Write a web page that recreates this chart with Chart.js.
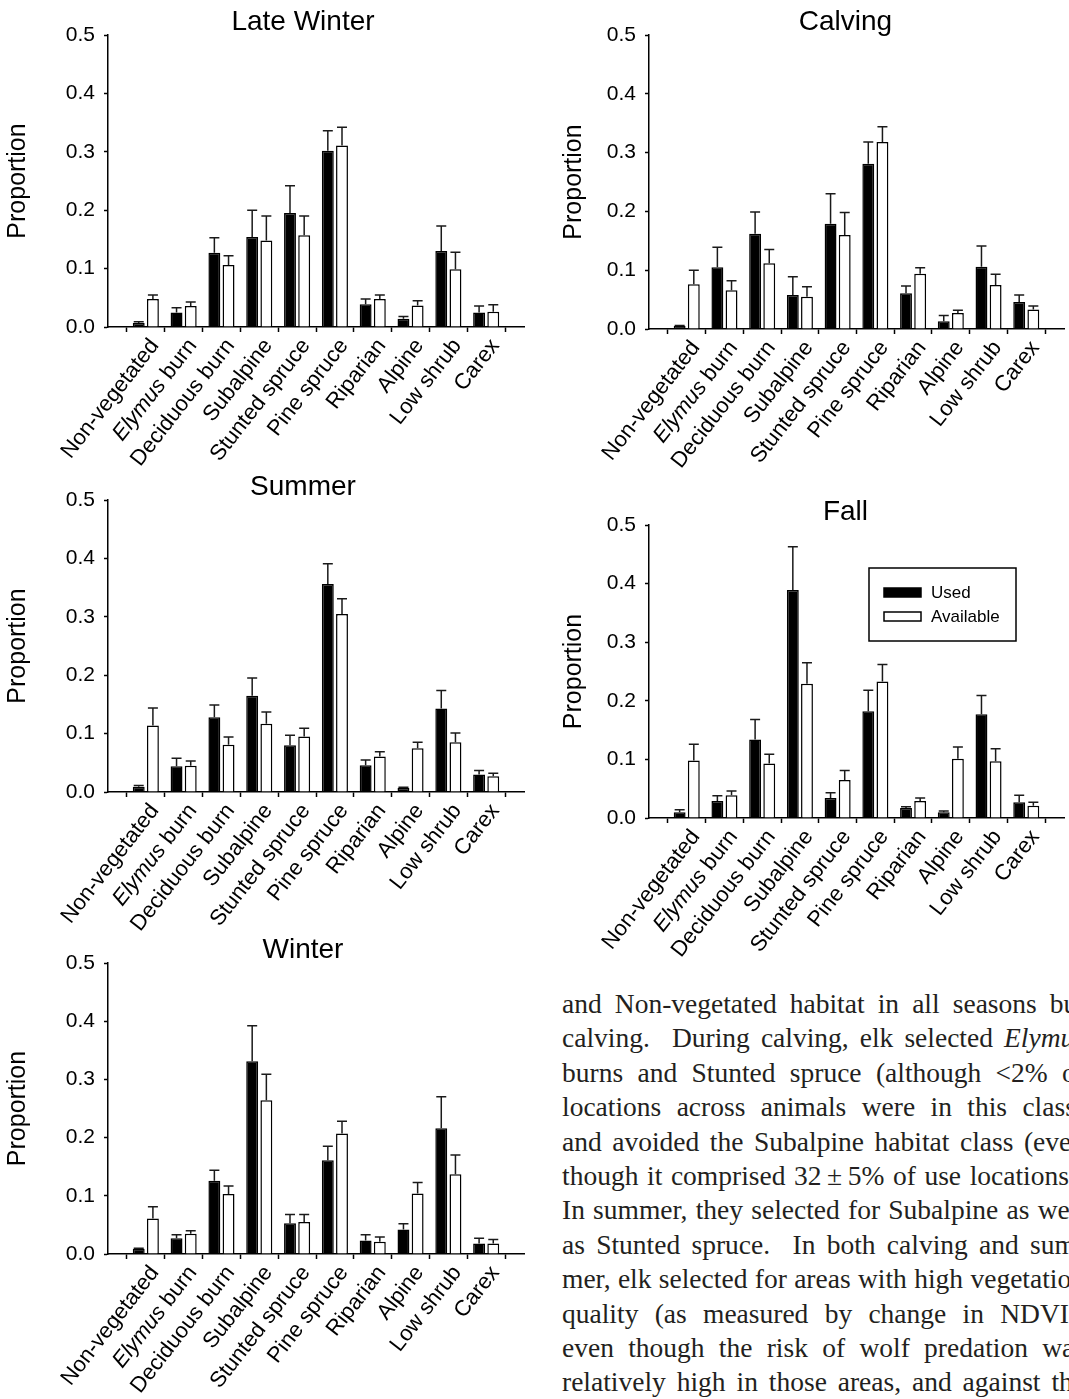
<!DOCTYPE html>
<html>
<head>
<meta charset="utf-8">
<script src="https://cdn.jsdelivr.net/npm/chart.js@4.4.1/dist/chart.umd.min.js"></script>
<style>
  html, body { margin: 0; padding: 0; background: #fff; }
  body { width: 1069px; height: 1399px; overflow: hidden; position: relative; }
  canvas { position: absolute; }
  #para { position: absolute; left: 562px; top: 987px; font-family: 'Liberation Serif', 'Times New Roman', serif; font-size: 27.5px; color: #231f20; }
  .ln { width: 523px; height: 34.4px; line-height: 34.4px; white-space: nowrap; text-align: justify; text-align-last: justify; }
</style>
</head>
<body>
<canvas id="lateWinter"></canvas>
<canvas id="summer"></canvas>
<canvas id="winter"></canvas>
<canvas id="calving"></canvas>
<canvas id="fall"></canvas>
<div id="para">
  <div class="ln">and Non-vegetated habitat in all seasons but</div>
  <div class="ln">calving.&nbsp; During calving, elk selected <i>Elymus</i></div>
  <div class="ln">burns and Stunted spruce (although &lt;2% of</div>
  <div class="ln">locations across animals were in this class)</div>
  <div class="ln">and avoided the Subalpine habitat class (even</div>
  <div class="ln">though it comprised 32&#8201;±&#8201;5% of use locations).</div>
  <div class="ln">In summer, they selected for Subalpine as well</div>
  <div class="ln">as Stunted spruce.&nbsp; In both calving and sum-</div>
  <div class="ln">mer, elk selected for areas with high vegetation</div>
  <div class="ln">quality (as measured by change in NDVI),</div>
  <div class="ln">even though the risk of wolf predation was</div>
  <div class="ln">relatively high in those areas, and against the</div>
</div>
<script>
'use strict';

// habitat classes along the x axis
const categories = ['Non-vegetated', 'Elymus burn', 'Deciduous burn', 'Subalpine', 'Stunted spruce',
  'Pine spruce', 'Riparian', 'Alpine', 'Low shrub', 'Carex'];
const seriesNames = ['Used', 'Available'];
const yTickValues = [0, 0.1, 0.2, 0.3, 0.4, 0.5];

// late winter
const lateWinterUsed = [0.007, 0.025, 0.127, 0.154, 0.195, 0.302, 0.039, 0.014, 0.130, 0.025];
const lateWinterUsedSE = [0.002, 0.008, 0.026, 0.046, 0.047, 0.034, 0.009, 0.004, 0.043, 0.011];
const lateWinterAvail = [0.048, 0.036, 0.106, 0.148, 0.157, 0.311, 0.048, 0.037, 0.099, 0.026];
const lateWinterAvailSE = [0.007, 0.007, 0.016, 0.042, 0.033, 0.031, 0.007, 0.008, 0.029, 0.012];

// calving
const calvingUsed = [0.005, 0.105, 0.162, 0.058, 0.179, 0.281, 0.061, 0.013, 0.106, 0.046];
const calvingUsedSE = [0.001, 0.034, 0.037, 0.031, 0.051, 0.037, 0.012, 0.010, 0.035, 0.012];
const calvingAvail = [0.076, 0.066, 0.112, 0.055, 0.160, 0.318, 0.094, 0.027, 0.075, 0.033];
const calvingAvailSE = [0.024, 0.016, 0.023, 0.017, 0.038, 0.026, 0.010, 0.005, 0.018, 0.006];

// summer
const summerUsed = [0.009, 0.044, 0.128, 0.165, 0.080, 0.356, 0.046, 0.007, 0.143, 0.030];
const summerUsedSE = [0.002, 0.014, 0.021, 0.030, 0.017, 0.035, 0.009, 0.001, 0.031, 0.007];
const summerAvail = [0.114, 0.045, 0.081, 0.117, 0.095, 0.305, 0.061, 0.075, 0.085, 0.027];
const summerAvailSE = [0.030, 0.008, 0.013, 0.020, 0.014, 0.026, 0.008, 0.010, 0.016, 0.005];

// fall
const fallUsed = [0.010, 0.029, 0.134, 0.389, 0.034, 0.182, 0.017, 0.010, 0.177, 0.027];
const fallUsedSE = [0.004, 0.009, 0.034, 0.074, 0.009, 0.036, 0.002, 0.002, 0.032, 0.012];
const fallAvail = [0.098, 0.039, 0.093, 0.229, 0.065, 0.233, 0.029, 0.101, 0.097, 0.021];
const fallAvailSE = [0.028, 0.007, 0.016, 0.036, 0.016, 0.029, 0.005, 0.020, 0.021, 0.006];

// winter
const winterUsed = [0.009, 0.027, 0.126, 0.331, 0.053, 0.161, 0.023, 0.042, 0.216, 0.018];
const winterUsedSE = [0.001, 0.006, 0.018, 0.061, 0.015, 0.024, 0.010, 0.010, 0.054, 0.009];
const winterAvail = [0.061, 0.035, 0.103, 0.264, 0.055, 0.207, 0.021, 0.104, 0.137, 0.018];
const winterAvailSE = [0.020, 0.005, 0.014, 0.045, 0.013, 0.021, 0.008, 0.019, 0.033, 0.007];

const FONT = "'Liberation Sans', Arial, Helvetica, sans-serif";
Chart.defaults.font.family = FONT;
Chart.defaults.color = '#000';

// where each panel sits on the page
let panels = [
  { id: 'lateWinter', title: 'Late Winter', used: lateWinterUsed, usedSE: lateWinterUsedSE, avail: lateWinterAvail, availSE: lateWinterAvailSE, left: 0, width: 540, plotTop: 35, plotH: 292, plotW: 416, titleDx: -13, yLabelX: 18 },
  { id: 'summer', title: 'Summer', used: summerUsed, usedSE: summerUsedSE, avail: summerAvail, availSE: summerAvailSE, left: 0, width: 540, plotTop: 500, plotH: 292, plotW: 416, titleDx: -13, yLabelX: 18 },
  { id: 'winter', title: 'Winter', used: winterUsed, usedSE: winterUsedSE, avail: winterAvail, availSE: winterAvailSE, left: 0, width: 540, plotTop: 963, plotH: 291, plotW: 416, titleDx: -13, yLabelX: 18 },
  { id: 'calving', title: 'Calving', used: calvingUsed, usedSE: calvingUsedSE, avail: calvingAvail, availSE: calvingAvailSE, left: 541, width: 528, plotTop: 35, plotH: 294, plotW: 415, titleDx: -11, yLabelX: 33 },
  { id: 'fall', title: 'Fall', used: fallUsed, usedSE: fallUsedSE, avail: fallAvail, availSE: fallAvailSE, left: 541, width: 528, plotTop: 525, plotH: 293, plotW: 415, titleDx: -11, yLabelX: 33, legend: true }
];

const TOP_PAD = 35;
const AXIS_W = 108;
const XAXIS_H = 145;
const YTITLE_SIZE = 25;

// error bars (upper half only, with a cap)
const errorBars = {
  id: 'errorBars',
  afterDatasetsDraw(chart) {
    let ctx = chart.ctx;
    let yScale = chart.scales.y;
    ctx.save();
    ctx.strokeStyle = '#1a1a1a';
    ctx.lineWidth = 1.5;
    chart.data.datasets.forEach((ds, d) => {
      let meta = chart.getDatasetMeta(d);
      meta.data.forEach((bar, i) => {
        let yEnd = yScale.getPixelForValue(ds.data[i].y + ds.errors[i]);
        ctx.beginPath();
        ctx.moveTo(bar.x, bar.y);
        ctx.lineTo(bar.x, yEnd);
        ctx.moveTo(bar.x - 5, yEnd);
        ctx.lineTo(bar.x + 5, yEnd);
        ctx.stroke();
      });
    });
    ctx.restore();
  }
};

// rotated category names, Elymus in italics
const categoryLabels = {
  id: 'categoryLabels',
  afterDraw(chart) {
    let ctx = chart.ctx;
    let xScale = chart.scales.x;
    let base = chart.chartArea.bottom;
    ctx.save();
    ctx.fillStyle = '#000';
    ctx.textAlign = 'right';
    ctx.textBaseline = 'middle';
    categories.forEach((name, i) => {
      let x = xScale.getPixelForValue(i);
      ctx.save();
      ctx.translate(x + 9, base + 15);
      ctx.rotate(-52 * Math.PI / 180);
      if (name.startsWith('Elymus')) {
        let rest = name.slice('Elymus'.length);
        ctx.font = '22px ' + FONT;
        ctx.fillText(rest, 0, 0);
        let w = ctx.measureText(rest).width;
        ctx.font = 'italic 22px ' + FONT;
        ctx.fillText('Elymus', -w, 0);
      } else {
        ctx.font = '22px ' + FONT;
        ctx.fillText(name, 0, 0);
      }
      ctx.restore();
    });
    ctx.restore();
  }
};

const panelTitle = {
  id: 'panelTitle',
  afterDraw(chart, args, opts) {
    let ctx = chart.ctx;
    let area = chart.chartArea;
    ctx.save();
    ctx.fillStyle = '#000';
    ctx.font = '28px ' + FONT;
    ctx.textAlign = 'center';
    ctx.textBaseline = 'alphabetic';
    ctx.fillText(opts.text, (area.left + area.right) / 2 + opts.dx, area.top - 5);
    ctx.restore();
  }
};

const boxLegend = {
  id: 'boxLegend',
  afterDraw(chart, args, opts) {
    if (!opts.show) return;
    let ctx = chart.ctx;
    let area = chart.chartArea;
    let bx = area.left + 220;
    let by = area.top + 43;
    ctx.save();
    ctx.strokeStyle = '#000';
    ctx.lineWidth = 1.5;
    ctx.strokeRect(bx, by, 147, 73);
    ctx.font = '17px ' + FONT;
    ctx.textAlign = 'left';
    ctx.textBaseline = 'middle';
    chart.data.datasets.forEach((ds, d) => {
      let sy = by + 20 + d * 24;
      ctx.fillStyle = ds.backgroundColor;
      ctx.fillRect(bx + 15, sy, 37, 9);
      ctx.strokeRect(bx + 15, sy, 37, 9);
      ctx.fillStyle = '#000';
      ctx.fillText(ds.label, bx + 62, sy + 5);
    });
    ctx.restore();
  }
};

function makeDataset(label, values, se, fill) {
  return {
    label: label,
    data: values.map((v, i) => ({ x: i, y: v })),
    errors: se,
    backgroundColor: fill,
    borderColor: '#000',
    borderWidth: 1.5,
    categoryPercentage: 0.75,
    barPercentage: 0.84
  };
}

function renderPanel(p) {
  let canvas = document.getElementById(p.id);
  let h = TOP_PAD + p.plotH + XAXIS_H;
  canvas.width = p.width;
  canvas.height = h;
  canvas.style.left = p.left + 'px';
  canvas.style.top = (p.plotTop - TOP_PAD) + 'px';

  let chartObject = {
    type: 'bar',
    data: {
      datasets: [
        makeDataset(seriesNames[0], p.used, p.usedSE, '#000'),
        makeDataset(seriesNames[1], p.avail, p.availSE, '#fff')
      ]
    },
    options: {
      responsive: false,
      animation: false,
      devicePixelRatio: 1,
      layout: { padding: { top: TOP_PAD, left: 0, bottom: 0, right: p.width - AXIS_W - p.plotW } },
      plugins: {
        legend: { display: false },
        tooltip: { enabled: false },
        panelTitle: { text: p.title, dx: p.titleDx },
        boxLegend: { show: !!p.legend }
      },
      scales: {
        x: {
          type: 'linear',
          min: -1,
          max: categories.length,
          offset: false,
          ticks: { display: false },
          afterBuildTicks: s => { s.ticks = categories.map((c, i) => ({ value: i })); },
          afterFit: s => { s.height = XAXIS_H; },
          grid: { drawOnChartArea: false, drawTicks: true, tickLength: 5, tickColor: '#000', tickWidth: 1.5 },
          border: { display: true, color: '#000', width: 1.5 }
        },
        y: {
          min: yTickValues[0],
          max: yTickValues[yTickValues.length - 1],
          afterBuildTicks: s => { s.ticks = yTickValues.map(v => ({ value: v })); },
          afterFit: s => { s.width = AXIS_W; },
          ticks: { font: { size: 21 }, padding: 9, color: '#000', callback: v => v.toFixed(1) },
          grid: { drawOnChartArea: false, drawTicks: true, tickLength: 4, tickColor: '#000', tickWidth: 1.5 },
          border: { display: true, color: '#000', width: 1.5 },
          title: {
            display: true,
            text: 'Proportion',
            font: { size: YTITLE_SIZE },
            padding: { top: p.yLabelX - YTITLE_SIZE * 0.6, bottom: 0 },
            color: '#000'
          }
        }
      }
    },
    plugins: [errorBars, categoryLabels, panelTitle, boxLegend]
  };
  new Chart(canvas.getContext('2d'), chartObject);
}

panels.forEach(renderPanel);
</script>
</body>
</html>
